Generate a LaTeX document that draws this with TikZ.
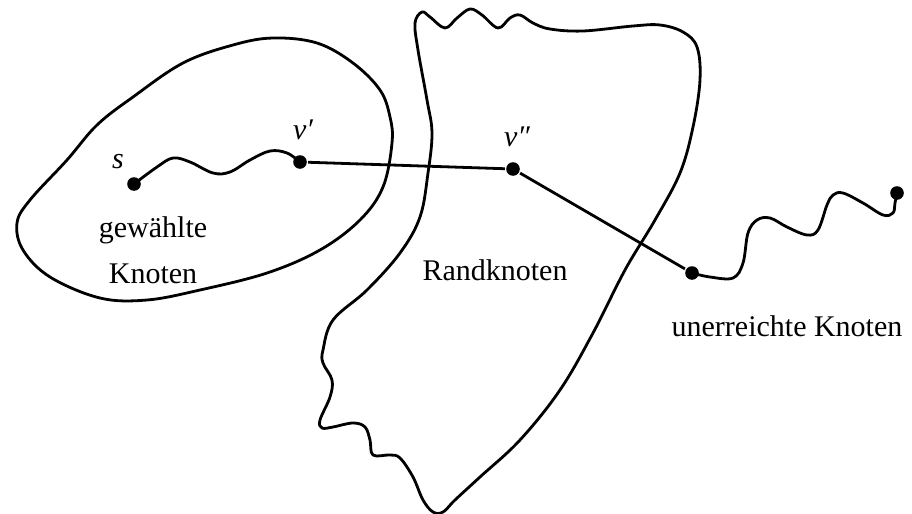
\documentclass[tikz,border=0pt]{standalone}
\usepackage{fontspec}
\setmainfont{Liberation Serif}
\usetikzlibrary{positioning}

\begin{document}
\begin{tikzpicture}[x=0.5pt, y=-0.5pt, line width=1.4pt, line join=round,
  dot/.style={circle, fill=black, inner sep=0pt, minimum size=6.8pt},
  lbl/.style={font=\fontsize{15}{17}\selectfont, inner sep=1pt, align=center},
  nlbl/.style={font=\fontsize{15}{17}\itshape, inner sep=1pt}]
  \useasboundingbox (0,0) rectangle (912,514);
  % gewaehlte Knoten
  \draw plot[smooth cycle, tension=0.6] coordinates {(273,38) (317,43) (353,63) (380,90)
    (390,117) (392,143) (383,187) (360,220) (320,250) (267,273) (200,290) (147,300)
    (100,298) (50,277) (23,250) (17,223) (30,200) (67,160) (97,125) (133,97) (183,63) (233,45)};
  % Randknoten
  \draw plot[smooth cycle, tension=0.6] coordinates {(422,12) (430,17) (445,28) (457,18)
    (470,9) (482,15) (498,28) (510,18) (520,15) (533,23) (550,29) (583,31) (633,26)
    (660,25) (683,32) (697,47) (700,80) (693,127) (680,173) (655,220) (625,270) (593,333)
    (560,390) (520,440) (480,477) (455,500) (443,512) (433,512) (423,500) (413,477)
    (400,458) (390,455) (373,455) (370,440) (365,427) (353,423) (333,427) (322,428)
    (320,420) (330,397) (332,380) (323,363) (323,350) (333,320) (367,290) (400,253)
    (420,217) (428,173) (432,133) (427,100) (418,50) (415,23)};
  % Knoten
  \node[dot] (s) at (134,184) {};
  \node[dot] (v1) at (300,162) {};
  \node[dot] (v2) at (513,169) {};
  \node[dot] (u) at (692,273) {};
  \node[dot] (w) at (897,193) {};
  \node[nlbl] (ls) at (118,162) {s};
  \node[nlbl] (lv1) at (303,130) {v′};
  \node[nlbl] (lv2) at (517,137) {v″};
  % Wege
  \draw plot[smooth, tension=0.6] coordinates {(s.center) (157,167) (173,158) (190,162)
    (213,173) (230,172) (250,160) (270,151) (287,153) (v1.center)};
  \draw (v1) -- (v2) -- (u);
  \draw plot[smooth, tension=0.6] coordinates {(u.center) (710,277) (733,278) (743,263)
    (748,233) (757,220) (770,218) (787,227) (807,235) (818,230) (827,205) (833,195)
    (843,193) (863,203) (883,215) (893,213) (895,203) (w.center)};
  % Beschriftung
  \node[lbl] (gew) at (153,250) {gewählte\\[6pt]Knoten};
  \node[lbl] (rand) at (495,270) {Randknoten};
  \node[lbl] (unerr) at (787,326) {unerreichte Knoten};
\end{tikzpicture}
\end{document}
